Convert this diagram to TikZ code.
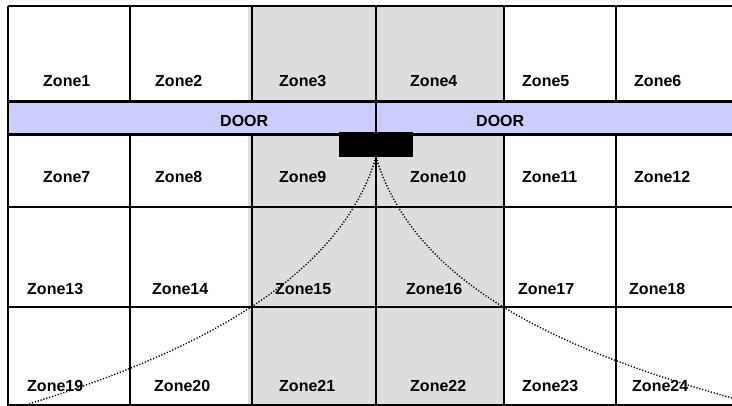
\documentclass[tikz,border=0pt]{standalone}
\usepackage{fontspec}
\setmainfont{Liberation Sans}
\definecolor{doorblue}{HTML}{CCCCFF}
\definecolor{shadegrey}{HTML}{DDDDDD}
\begin{document}
\begin{tikzpicture}[x=1pt,y=-1pt,
  zone/.style={anchor=base west,inner sep=0pt,font=\fontsize{16}{19}\selectfont\bfseries},
  gridline/.style={line width=1.4pt},
  doorband/.style={draw,line width=2.8pt,fill=doorblue},
  sensorbox/.style={fill=black,minimum width=74pt,minimum height=25pt,inner sep=0pt},
  ray/.style={line width=1.4pt,dash pattern=on 1.2pt off 1.8pt}]
\clip (0,0) rectangle (732,406);
% shaded columns
\fill[shadegrey] (248,6) rectangle (504,406);
% grid
\foreach \yy in {6,207,307,405} \draw[gridline] (8,\yy) -- (745,\yy);
\foreach \xx in {8,130,252,376,504,616} \draw[gridline] (\xx,6) -- (\xx,410);
% doors
\draw[doorband] (8,101.5) rectangle (376,134.5);
\draw[doorband] (376,101.5) rectangle (750,134.5);
\node[zone] (door1) at (220,127) {DOOR};
\node[zone] (door2) at (476,127) {DOOR};
% sensor
\node[sensorbox] (sensor) at (376,144.5) {};
% zone labels
\node[zone] (z1) at (43,87) {Zone1};
\node[zone] (z2) at (155,87) {Zone2};
\node[zone] (z3) at (279,87) {Zone3};
\node[zone] (z4) at (410,87) {Zone4};
\node[zone] (z5) at (522,87) {Zone5};
\node[zone] (z6) at (634,87) {Zone6};
\node[zone] (z7) at (43,183) {Zone7};
\node[zone] (z8) at (155,183) {Zone8};
\node[zone] (z9) at (279,183) {Zone9};
\node[zone] (z10) at (410,183) {Zone10};
\node[zone] (z11) at (522,183) {Zone11};
\node[zone] (z12) at (634,183) {Zone12};
\node[zone] (z13) at (27,295) {Zone13};
\node[zone] (z14) at (152,295) {Zone14};
\node[zone] (z15) at (275,295) {Zone15};
\node[zone] (z16) at (406,295) {Zone16};
\node[zone] (z17) at (518,295) {Zone17};
\node[zone] (z18) at (629,295) {Zone18};
\node[zone] (z19) at (27,392) {Zone19};
\node[zone] (z20) at (154,392) {Zone20};
\node[zone] (z21) at (279,392) {Zone21};
\node[zone] (z22) at (410,392) {Zone22};
\node[zone] (z23) at (522,392) {Zone23};
\node[zone] (z24) at (632,392) {Zone24};
% detection rays
\coordinate (endL) at (22,406);
\coordinate (endR) at (732,398);
\draw[ray] (sensor.south) .. controls (340,277) and (200,352) .. (endL);
\draw[ray] (sensor.south) .. controls (415,285) and (560,350) .. (endR);
\end{tikzpicture}
\end{document}
